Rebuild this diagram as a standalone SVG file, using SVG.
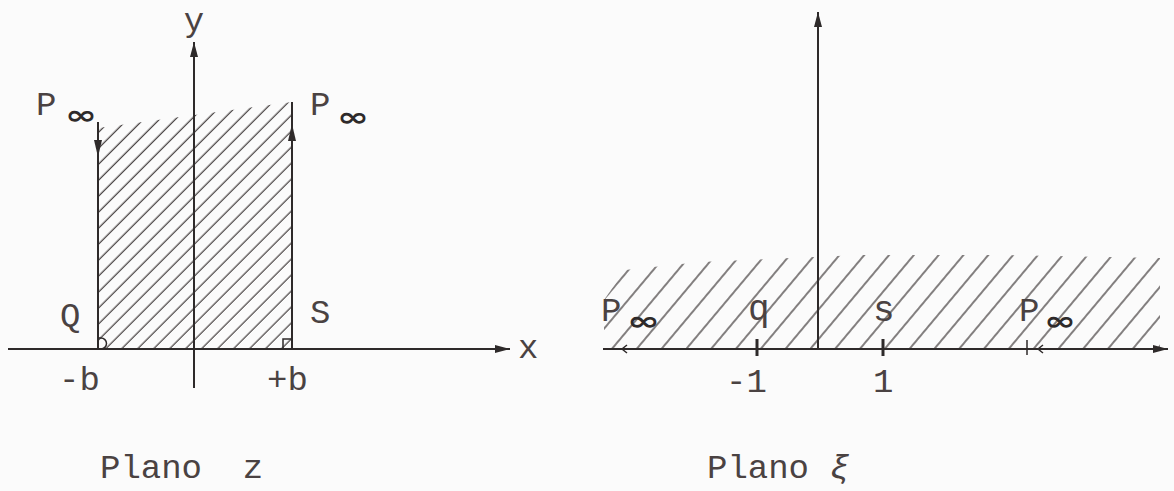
<svg xmlns="http://www.w3.org/2000/svg" width="1174" height="491" viewBox="0 0 1174 491">
<defs>
<style>
.ax{stroke:#2e2a2a;stroke-width:2;fill:none}
.tk{stroke:#2e2a2a;stroke-width:3;fill:none}
.thin{stroke:#2e2a2a;stroke-width:1.5;fill:none}
.lbl{font-family:"Liberation Mono","Courier New",monospace;font-size:34px;fill:#4a4242}
.inf{font-family:"DejaVu Sans",sans-serif;font-weight:bold;font-size:26px;fill:#2e2a2a}
.head{fill:#2e2a2a}
</style>
<marker id="arr" markerUnits="userSpaceOnUse" markerWidth="16" markerHeight="10" refX="15" refY="5" orient="auto">
<path d="M0,1 L15,5 L0,9 Z" class="head"/>
</marker>
<pattern id="hatchZ" patternUnits="userSpaceOnUse" width="11.3" height="20" patternTransform="rotate(45)">
<line x1="5" y1="0" x2="5" y2="20" stroke="#4f4a4a" stroke-width="1.3"/>
</pattern>
<pattern id="hatchXi" patternUnits="userSpaceOnUse" width="19" height="20" patternTransform="rotate(40)">
<line x1="9" y1="0" x2="9" y2="20" stroke="#4f4a4a" stroke-width="1.4"/>
</pattern>
</defs>
<rect width="1174" height="491" fill="#fbfbfb"/>

<g id="region-z">
<polygon points="98,128 292,102 292,349 98,349" fill="url(#hatchZ)"/>
</g>
<g id="region-xi">
<polygon points="604,349 604,300 625,270 700,262 860,255 1000,255 1160,258 1160,349" fill="url(#hatchXi)"/>
</g>

<g id="connectors">
<line class="ax" x1="8" y1="349" x2="510" y2="349" marker-end="url(#arr)"/>
<line class="ax" x1="194" y1="388" x2="194" y2="42" marker-end="url(#arr)"/>
<line class="ax" x1="98" y1="122" x2="98" y2="349"/>
<polygon class="head" points="98,157 94,140 102,140"/>
<line class="ax" x1="292" y1="102" x2="292" y2="349"/>
<polygon class="head" points="292,124 288,141 296,141"/>
<path class="thin" d="M98,338 h3 a5.5,5.5 0 0 1 0,11"/>
<path class="thin" d="M283,349 v-10 h9"/>
<line class="ax" x1="603" y1="349" x2="1168" y2="349" marker-end="url(#arr)"/>
<line class="ax" x1="818" y1="349" x2="818" y2="12" marker-end="url(#arr)"/>
<line class="tk" x1="757" y1="339" x2="757" y2="356"/>
<line class="tk" x1="883" y1="339" x2="883" y2="356"/>
<line class="thin" x1="1027" y1="340" x2="1027" y2="355"/>
<path class="thin" d="M1050,349 H1038 M1043,345 L1038,349 L1043,353"/>
<path class="thin" d="M637,349 H622 M627,345 L622,349 L627,353"/>
</g>

<g id="label-y"><text class="lbl" x="194" y="31" text-anchor="middle">y</text></g>
<g id="label-x"><text class="lbl" x="518" y="358">x</text></g>
<g id="label-Pinf-left"><text class="lbl" x="36" y="115">P</text><text class="inf" x="65" y="124" textLength="32" lengthAdjust="spacingAndGlyphs">∞</text></g>
<g id="label-Pinf-right"><text class="lbl" x="310" y="115">P</text><text class="inf" x="337" y="126" textLength="32" lengthAdjust="spacingAndGlyphs">∞</text></g>
<g id="label-Q"><text class="lbl" x="60" y="326">Q</text></g>
<g id="label-S"><text class="lbl" x="310" y="323">S</text></g>
<g id="label-mb"><text class="lbl" x="59" y="390">-b</text></g>
<g id="label-pb"><text class="lbl" x="267" y="390">+b</text></g>
<g id="title-z"><text class="lbl" x="100" y="478" xml:space="preserve">Plano  z</text></g>

<g id="label-Pinf-xi-left"><text class="lbl" x="601" y="321">P</text><text class="inf" x="627" y="330" textLength="33" lengthAdjust="spacingAndGlyphs">∞</text></g>
<g id="label-q"><text class="lbl" x="748" y="320" style="font-size:36px">q</text></g>
<g id="label-s"><text class="lbl" x="873" y="321" style="font-size:36px">s</text></g>
<g id="label-Pinf-xi-right"><text class="lbl" x="1019" y="321">P</text><text class="inf" x="1044" y="330" textLength="32" lengthAdjust="spacingAndGlyphs">∞</text></g>
<g id="label-m1"><text class="lbl" x="726" y="392">-1</text></g>
<g id="label-1"><text class="lbl" x="873" y="392">1</text></g>
<g id="title-xi"><text class="lbl" x="707" y="478">Plano <tspan font-style="italic">ξ</tspan></text></g>
</svg>
